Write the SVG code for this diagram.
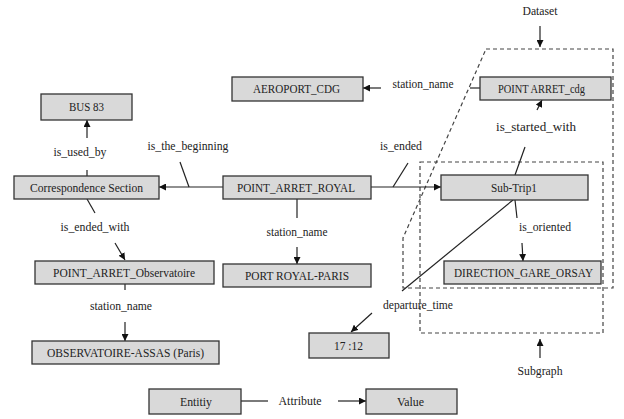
<svg xmlns="http://www.w3.org/2000/svg" width="624" height="419" viewBox="0 0 624 419">
<defs>
<marker id="ah" viewBox="0 0 10 10" refX="10" refY="5" markerWidth="7" markerHeight="7" orient="auto" markerUnits="userSpaceOnUse">
<path d="M0,0 L10,5 L0,10 Z" fill="#111"/>
</marker>
<style>
.box{fill:#d9d9d9;stroke:#333;stroke-width:1.3}
text{font-family:'Liberation Serif','Times New Roman','DejaVu Serif',serif;font-size:12px;fill:#222;text-anchor:middle;dominant-baseline:central}
.l{fill:none;stroke:#222;stroke-width:1.2}
.a{fill:none;stroke:#222;stroke-width:1.2;marker-end:url(#ah)}
.d{fill:none;stroke:#444;stroke-width:1.2;stroke-dasharray:4 3}
</style>
</defs>
<rect width="624" height="419" fill="#fff"/>
<g id="regions">
<path class="d" d="M486,49 L613,49 L613,288 L403,288 L403,238 Z"/>
<rect class="d" x="420" y="162" width="183" height="171"/>
<text x="540" y="11" textLength="35" lengthAdjust="spacingAndGlyphs">Dataset</text>
<text x="540" y="371" textLength="45" lengthAdjust="spacingAndGlyphs">Subgraph</text>
</g>
<g id="connectors">
<line class="a" x1="540" y1="26" x2="540" y2="47"/>
<line class="a" x1="540" y1="358" x2="540" y2="339"/>
<line class="l" x1="87" y1="176" x2="87" y2="170"/>
<line class="a" x1="87" y1="138" x2="87" y2="120"/>
<text x="80" y="152" textLength="53" lengthAdjust="spacingAndGlyphs">is_used_by</text>
<line class="a" x1="223" y1="187" x2="159" y2="187"/>
<line class="l" x1="180" y1="162" x2="189" y2="187"/>
<text x="188" y="146" textLength="81" lengthAdjust="spacingAndGlyphs">is_the_beginning</text>
<line class="a" x1="371" y1="187" x2="441" y2="187"/>
<line class="l" x1="408" y1="163" x2="393" y2="187"/>
<text x="401" y="146" textLength="42" lengthAdjust="spacingAndGlyphs">is_ended</text>
<line class="l" x1="480" y1="88" x2="470" y2="88"/>
<line class="a" x1="381" y1="88" x2="363" y2="88"/>
<text x="423" y="84" textLength="61" lengthAdjust="spacingAndGlyphs">station_name</text>
<line class="l" x1="515" y1="175" x2="525" y2="147"/>
<line class="a" x1="537" y1="110" x2="542" y2="100"/>
<text x="536" y="127" textLength="80" lengthAdjust="spacingAndGlyphs">is_started_with</text>
<line class="l" x1="515" y1="200" x2="517" y2="218"/>
<line class="a" x1="522" y1="243" x2="523" y2="261"/>
<text x="545" y="227" textLength="52" lengthAdjust="spacingAndGlyphs">is_oriented</text>
<line class="l" x1="513" y1="200" x2="402" y2="291"/>
<line class="a" x1="372" y1="313" x2="351" y2="332"/>
<text x="418" y="305" textLength="70" lengthAdjust="spacingAndGlyphs">departure_time</text>
<line class="l" x1="297" y1="199" x2="297" y2="218"/>
<line class="a" x1="297" y1="247" x2="297" y2="264"/>
<text x="297" y="232" textLength="61" lengthAdjust="spacingAndGlyphs">station_name</text>
<line class="l" x1="87" y1="199" x2="95" y2="213"/>
<line class="a" x1="115" y1="243" x2="125" y2="260"/>
<text x="95" y="227" textLength="69" lengthAdjust="spacingAndGlyphs">is_ended_with</text>
<line class="l" x1="125" y1="284" x2="125" y2="290"/>
<line class="a" x1="125" y1="322" x2="125" y2="341"/>
<text x="121" y="306" textLength="62" lengthAdjust="spacingAndGlyphs">station_name</text>
<line class="l" x1="241" y1="401" x2="268" y2="401"/>
<line class="a" x1="338" y1="401" x2="366" y2="401"/>
<text x="300" y="401" textLength="43" lengthAdjust="spacingAndGlyphs">Attribute</text>
</g>
<g id="bus83"><rect class="box" x="41" y="94" width="91" height="26"/><text x="86.5" y="107" textLength="35" lengthAdjust="spacingAndGlyphs">BUS 83</text></g>
<g id="correspondence"><rect class="box" x="14" y="176" width="145" height="23"/><text x="86.5" y="187.5" textLength="113" lengthAdjust="spacingAndGlyphs">Correspondence Section</text></g>
<g id="royal"><rect class="box" x="223" y="176" width="148" height="23"/><text x="296" y="187.5" textLength="118" lengthAdjust="spacingAndGlyphs">POINT_ARRET_ROYAL</text></g>
<g id="aeroport"><rect class="box" x="232" y="77" width="131" height="24"/><text x="296.5" y="89" textLength="87" lengthAdjust="spacingAndGlyphs">AEROPORT_CDG</text></g>
<g id="cdg"><rect class="box" x="480" y="77" width="131" height="23"/><text x="541.5" y="88.5" textLength="87" lengthAdjust="spacingAndGlyphs">POINT ARRET_cdg</text></g>
<g id="subtrip"><rect class="box" x="441" y="175" width="147" height="25"/><text x="514" y="187.5" textLength="46" lengthAdjust="spacingAndGlyphs">Sub-Trip1</text></g>
<g id="orsay"><rect class="box" x="444" y="261" width="157" height="23"/><text x="523.5" y="272.5" textLength="139" lengthAdjust="spacingAndGlyphs">DIRECTION_GARE_ORSAY</text></g>
<g id="observatoire"><rect class="box" x="35" y="261" width="179" height="23"/><text x="124" y="272.5" textLength="142" lengthAdjust="spacingAndGlyphs">POINT_ARRET_Observatoire</text></g>
<g id="assas"><rect class="box" x="32" y="341" width="187" height="23"/><text x="125.5" y="352.5" textLength="157" lengthAdjust="spacingAndGlyphs">OBSERVATOIRE-ASSAS (Paris)</text></g>
<g id="portroyal"><rect class="box" x="223" y="264" width="148" height="23"/><text x="297" y="275.5" textLength="104" lengthAdjust="spacingAndGlyphs">PORT ROYAL-PARIS</text></g>
<g id="time"><rect class="box" x="309" y="333" width="80" height="25"/><text x="348.5" y="345.5" textLength="29" lengthAdjust="spacingAndGlyphs">17 :12</text></g>
<g id="entity"><rect class="box" x="149" y="389" width="92" height="25"/><text x="196" y="401.5" textLength="32" lengthAdjust="spacingAndGlyphs">Entitiy</text></g>
<g id="value"><rect class="box" x="366" y="389" width="91" height="25"/><text x="410.5" y="401.5" textLength="27" lengthAdjust="spacingAndGlyphs">Value</text></g>
</svg>
